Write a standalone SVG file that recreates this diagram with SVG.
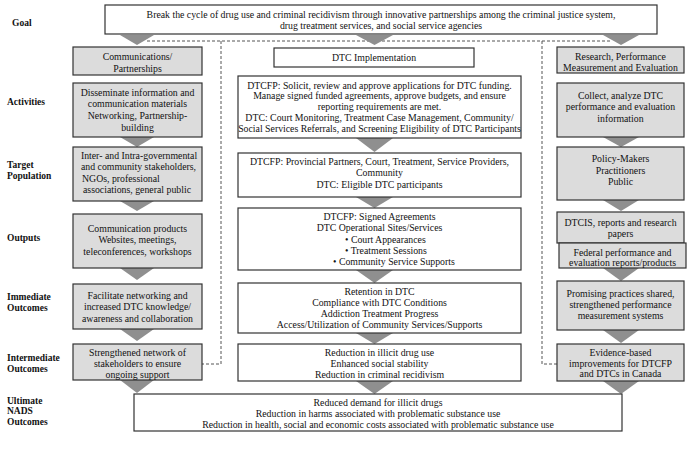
<svg xmlns="http://www.w3.org/2000/svg" width="700" height="451" viewBox="0 0 700 451">
<style>
text{font-family:"Liberation Serif","Times New Roman",serif;font-size:9.8px;fill:#111}
.c{text-anchor:middle}
.lab{font-weight:bold;font-size:9.5px}
.w{fill:#fff;stroke:#333;stroke-width:1.2}
.g{fill:#dcdcdc;stroke:#333;stroke-width:1.2}
.tri{fill:#8f8f8f}
.dash{fill:none;stroke:#555;stroke-width:1;stroke-dasharray:3,2}
</style>
<rect width="700" height="451" fill="#fff"/>

<g id="labels">
<text class="lab" x="12" y="26">Goal</text>
<text class="lab" x="7" y="105">Activities</text>
<text class="lab" x="7" y="168">Target</text>
<text class="lab" x="7" y="179">Population</text>
<text class="lab" x="7" y="241">Outputs</text>
<text class="lab" x="7" y="300">Immediate</text>
<text class="lab" x="7" y="311">Outcomes</text>
<text class="lab" x="7" y="361">Intermediate</text>
<text class="lab" x="7" y="372">Outcomes</text>
<text class="lab" x="7" y="404">Ultimate</text>
<text class="lab" x="7" y="414">NADS</text>
<text class="lab" x="7" y="425">Outcomes</text>
</g>

<g id="connectors">
<path class="dash" d="M147,41 H612"/>
<path class="dash" d="M221,41 V364 H202"/>
<path class="dash" d="M542,41 V364 H557"/>
<polygon class="tri" points="120,35 154,35 137,45"/>
<polygon class="tri" points="356,35 393,35 374.5,45"/>
<polygon class="tri" points="603,35 639,35 621,45"/>
<polygon class="tri" points="120,137 154,137 137,147"/>
<polygon class="tri" points="120,201 154,201 137,211"/>
<polygon class="tri" points="120,268 154,268 137,280"/>
<polygon class="tri" points="120,329 154,329 137,341"/>
<polygon class="tri" points="120,380 154,380 137,393"/>
<polygon class="tri" points="356,138 393,138 374.5,152"/>
<polygon class="tri" points="356,197 393,197 374.5,208"/>
<polygon class="tri" points="356,270 393,270 374.5,283"/>
<polygon class="tri" points="356,333 393,333 374.5,344"/>
<polygon class="tri" points="356,381 393,381 374.5,394"/>
<polygon class="tri" points="603,137 639,137 621,147"/>
<polygon class="tri" points="603,200 639,200 621,211"/>
<polygon class="tri" points="603,268 639,268 621,281"/>
<polygon class="tri" points="603,330 639,330 621,343"/>
<polygon class="tri" points="603,381 639,381 621,394"/>
</g>

<g id="goal">
<rect class="w" x="105" y="5" width="552" height="29"/>
<text class="c" x="381" y="17.5">Break the cycle of drug use and criminal recidivism through innovative partnerships among the criminal justice system,</text>
<text class="c" x="381" y="28.5">drug treatment services, and social service agencies</text>
</g>

<g id="comm">
<rect class="g" x="73" y="47" width="129" height="28"/>
<text class="c" x="137.5" y="59.5">Communications/</text>
<text class="c" x="137.5" y="71.5">Partnerships</text>
</g>
<g id="disseminate">
<rect class="g" x="73" y="83" width="129" height="54"/>
<text class="c" x="137.5" y="95.5">Disseminate information and</text>
<text class="c" x="137.5" y="107.2">communication materials</text>
<text class="c" x="137.5" y="118.9">Networking, Partnership-</text>
<text class="c" x="137.5" y="130.6">building</text>
</g>
<g id="stakeholders">
<rect class="g" x="73" y="147" width="129" height="54"/>
<text class="c" x="139" y="158.5">Inter- and Intra-governmental</text>
<text class="c" x="138.5" y="170">and community stakeholders,</text>
<text x="82" y="181.5">NGOs, professional</text>
<text class="c" x="137" y="193">associations, general public</text>
</g>
<g id="commproducts">
<rect class="g" x="73" y="214" width="129" height="54"/>
<text class="c" x="137.5" y="231.5">Communication products</text>
<text class="c" x="137.5" y="243">Websites, meetings,</text>
<text class="c" x="137.5" y="254.5">teleconferences, workshops</text>
</g>
<g id="facilitate">
<rect class="g" x="73" y="284" width="129" height="45"/>
<text class="c" x="137.5" y="298.5">Facilitate networking and</text>
<text class="c" x="137.5" y="310">increased DTC knowledge/</text>
<text class="c" x="137.5" y="321.5">awareness and collaboration</text>
</g>
<g id="strengthened">
<rect class="g" x="73" y="344" width="129" height="36"/>
<text class="c" x="137.5" y="355.5">Strengthened network of</text>
<text class="c" x="137.5" y="366.5">stakeholders to ensure</text>
<text class="c" x="137.5" y="377.5">ongoing support</text>
</g>

<g id="dtcimpl">
<rect class="w" x="274" y="48" width="200" height="19"/>
<text class="c" x="374" y="61">DTC Implementation</text>
</g>
<g id="solicit">
<rect class="w" x="238" y="76" width="283" height="62"/>
<text class="c" x="379.5" y="88.5">DTCFP: Solicit, review and approve applications for DTC funding.</text>
<text class="c" x="379.5" y="99.3">Manage signed funded agreements, approve budgets, and ensure</text>
<text class="c" x="379.5" y="110.1">reporting requirements are met.</text>
<text class="c" x="379.5" y="120.9">DTC: Court Monitoring, Treatment Case Management, Community/</text>
<text class="c" x="379.5" y="131.7">Social Services Referrals, and Screening Eligibility of DTC Participants</text>
</g>
<g id="provincial">
<rect class="w" x="238" y="153" width="283" height="44"/>
<text class="c" x="379.5" y="165">DTCFP: Provincial Partners, Court, Treatment, Service Providers,</text>
<text class="c" x="379.5" y="176">Community</text>
<text class="c" x="379.5" y="187.5">DTC: Eligible DTC participants</text>
</g>
<g id="signed">
<rect class="w" x="238" y="208" width="283" height="62"/>
<text class="c" x="379.5" y="220">DTCFP: Signed Agreements</text>
<text class="c" x="379.5" y="231">DTC Operational Sites/Services</text>
<text x="345" y="242.5">•  Court Appearances</text>
<text x="345" y="253.5">•  Treatment Sessions</text>
<text x="333" y="264.5">•  Community Service Supports</text>
</g>
<g id="retention">
<rect class="w" x="238" y="283" width="283" height="50"/>
<text class="c" x="379.5" y="294.5">Retention in DTC</text>
<text class="c" x="379.5" y="305.5">Compliance with DTC Conditions</text>
<text class="c" x="379.5" y="316.5">Addiction Treatment Progress</text>
<text class="c" x="379.5" y="327.5">Access/Utilization of Community Services/Supports</text>
</g>
<g id="reduction">
<rect class="w" x="238" y="344" width="283" height="37"/>
<text class="c" x="379.5" y="355.5">Reduction in illicit drug use</text>
<text class="c" x="379.5" y="366.5">Enhanced social stability</text>
<text class="c" x="379.5" y="377.5">Reduction in criminal recidivism</text>
</g>

<g id="research">
<rect class="g" x="557" y="47" width="127" height="26"/>
<text class="c" x="620.5" y="59.5">Research, Performance</text>
<text class="c" x="620.5" y="70.5">Measurement and Evaluation</text>
</g>
<g id="collect">
<rect class="g" x="557" y="83" width="127" height="54"/>
<text class="c" x="620.5" y="98.5">Collect, analyze DTC</text>
<text class="c" x="620.5" y="110">performance and evaluation</text>
<text class="c" x="620.5" y="121.5">information</text>
</g>
<g id="policy">
<rect class="g" x="557" y="147" width="127" height="53"/>
<text class="c" x="620.5" y="162">Policy-Makers</text>
<text class="c" x="620.5" y="173.5">Practitioners</text>
<text class="c" x="620.5" y="185">Public</text>
</g>
<g id="dtcis">
<rect class="g" x="557" y="212" width="127" height="31"/>
<text class="c" x="620.5" y="225.5">DTCIS, reports and research</text>
<text class="c" x="620.5" y="236.5">papers</text>
</g>
<g id="federal">
<rect class="g" x="559" y="243" width="127" height="25"/>
<text class="c" x="622.5" y="255.5">Federal performance and</text>
<text class="c" x="622.5" y="265.5">evaluation reports/products</text>
</g>
<g id="promising">
<rect class="g" x="557" y="281" width="127" height="49"/>
<text class="c" x="620.5" y="296.5">Promising practices shared,</text>
<text class="c" x="620.5" y="307.5">strengthened performance</text>
<text class="c" x="620.5" y="319">measurement systems</text>
</g>
<g id="evidence">
<rect class="g" x="557" y="344" width="127" height="37"/>
<text class="c" x="620.5" y="355.5">Evidence-based</text>
<text class="c" x="620.5" y="366.5">improvements for DTCFP</text>
<text class="c" x="620.5" y="377">and DTCs in Canada</text>
</g>

<g id="ultimate">
<rect class="w" x="134" y="394" width="488" height="37"/>
<text class="c" x="378" y="405.5">Reduced demand for illicit drugs</text>
<text class="c" x="378" y="416.5">Reduction in harms associated with problematic substance use</text>
<text class="c" x="378" y="427.5">Reduction in health, social and economic costs associated with problematic substance use</text>
</g>
</svg>
